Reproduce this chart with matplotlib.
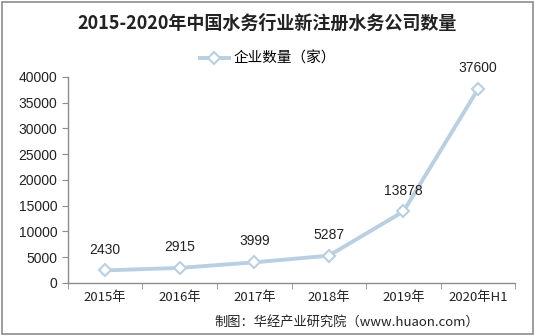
import matplotlib
matplotlib.use("Agg")
import matplotlib.pyplot as plt
from matplotlib.patches import Rectangle
import numpy as np

plt.rcParams['font.family'] = ['Noto Sans CJK SC', 'DejaVu Sans']

categories = ["2015年", "2016年", "2017年", "2018年", "2019年", "2020年H1"]
values = [2430, 2915, 3999, 5287, 13878, 37600]
series_name = "企业数量（家）"
title = "2015-2020年中国水务行业新注册水务公司数量"
source = "制图：华经产业研究院（www.huaon.com）"
yticks = [0, 5000, 10000, 15000, 20000, 25000, 30000, 35000, 40000]

num_font = ['Liberation Sans', 'DejaVu Sans']

fig = plt.figure(figsize=(5.35, 3.36), dpi=100)
fig.patches.append(Rectangle((0.004, 0.006), 0.992, 0.988, transform=fig.transFigure,
                             fill=False, edgecolor='#8c8c8c', linewidth=1.2))
ax = fig.add_axes([0.127, 0.158, 0.836, 0.613])

line_color = '#B9D0E3'
x = np.arange(len(categories))
ax.plot(x, values, color=line_color, linewidth=2.8, marker='D', markersize=6,
        markerfacecolor='white', markeredgecolor=line_color, markeredgewidth=1.5,
        label=series_name, zorder=3)
for xi, v in zip(x, values):
    ax.annotate(str(v), (xi, v), xytext=(0, 10), textcoords='offset points',
                ha='center', va='bottom', fontsize=10, color='#222222',
                family=num_font)

ax.set_xlim(-0.5, len(categories) - 0.5)
ax.set_ylim(0, 40000)
ax.set_yticks(yticks)
ax.set_yticklabels([str(t) for t in yticks], family=num_font, fontsize=10)
ax.set_xticks(x)
ax.set_xticklabels(categories, fontsize=9.5)
ax.set_xticks(np.arange(-0.5, len(categories), 1), minor=True)
ax.tick_params(axis='x', which='major', length=0, pad=6, colors='#222222')
ax.tick_params(axis='x', which='minor', length=4, color='#8c8c8c', direction='out')
ax.tick_params(axis='y', length=4, color='#8c8c8c', colors='#222222')
for t in ax.get_yticklabels():
    t.set_color('#222222')
for s in ['top', 'right']:
    ax.spines[s].set_visible(False)
for s in ['left', 'bottom']:
    ax.spines[s].set_color('#8c8c8c')
    ax.spines[s].set_linewidth(1.0)

fig.text(0.5, 0.93, title, ha='center', va='center', fontsize=13, fontweight='bold',
         color='#222222')
leg = fig.legend(loc='center', bbox_to_anchor=(0.5, 0.825), frameon=False, fontsize=10.5,
                 handlelength=2.0, handletextpad=0.3)
fig.text(0.4, 0.042, source, ha='left', va='center', fontsize=9.5, color='#222222')

fig.savefig("out.png", dpi=100)
